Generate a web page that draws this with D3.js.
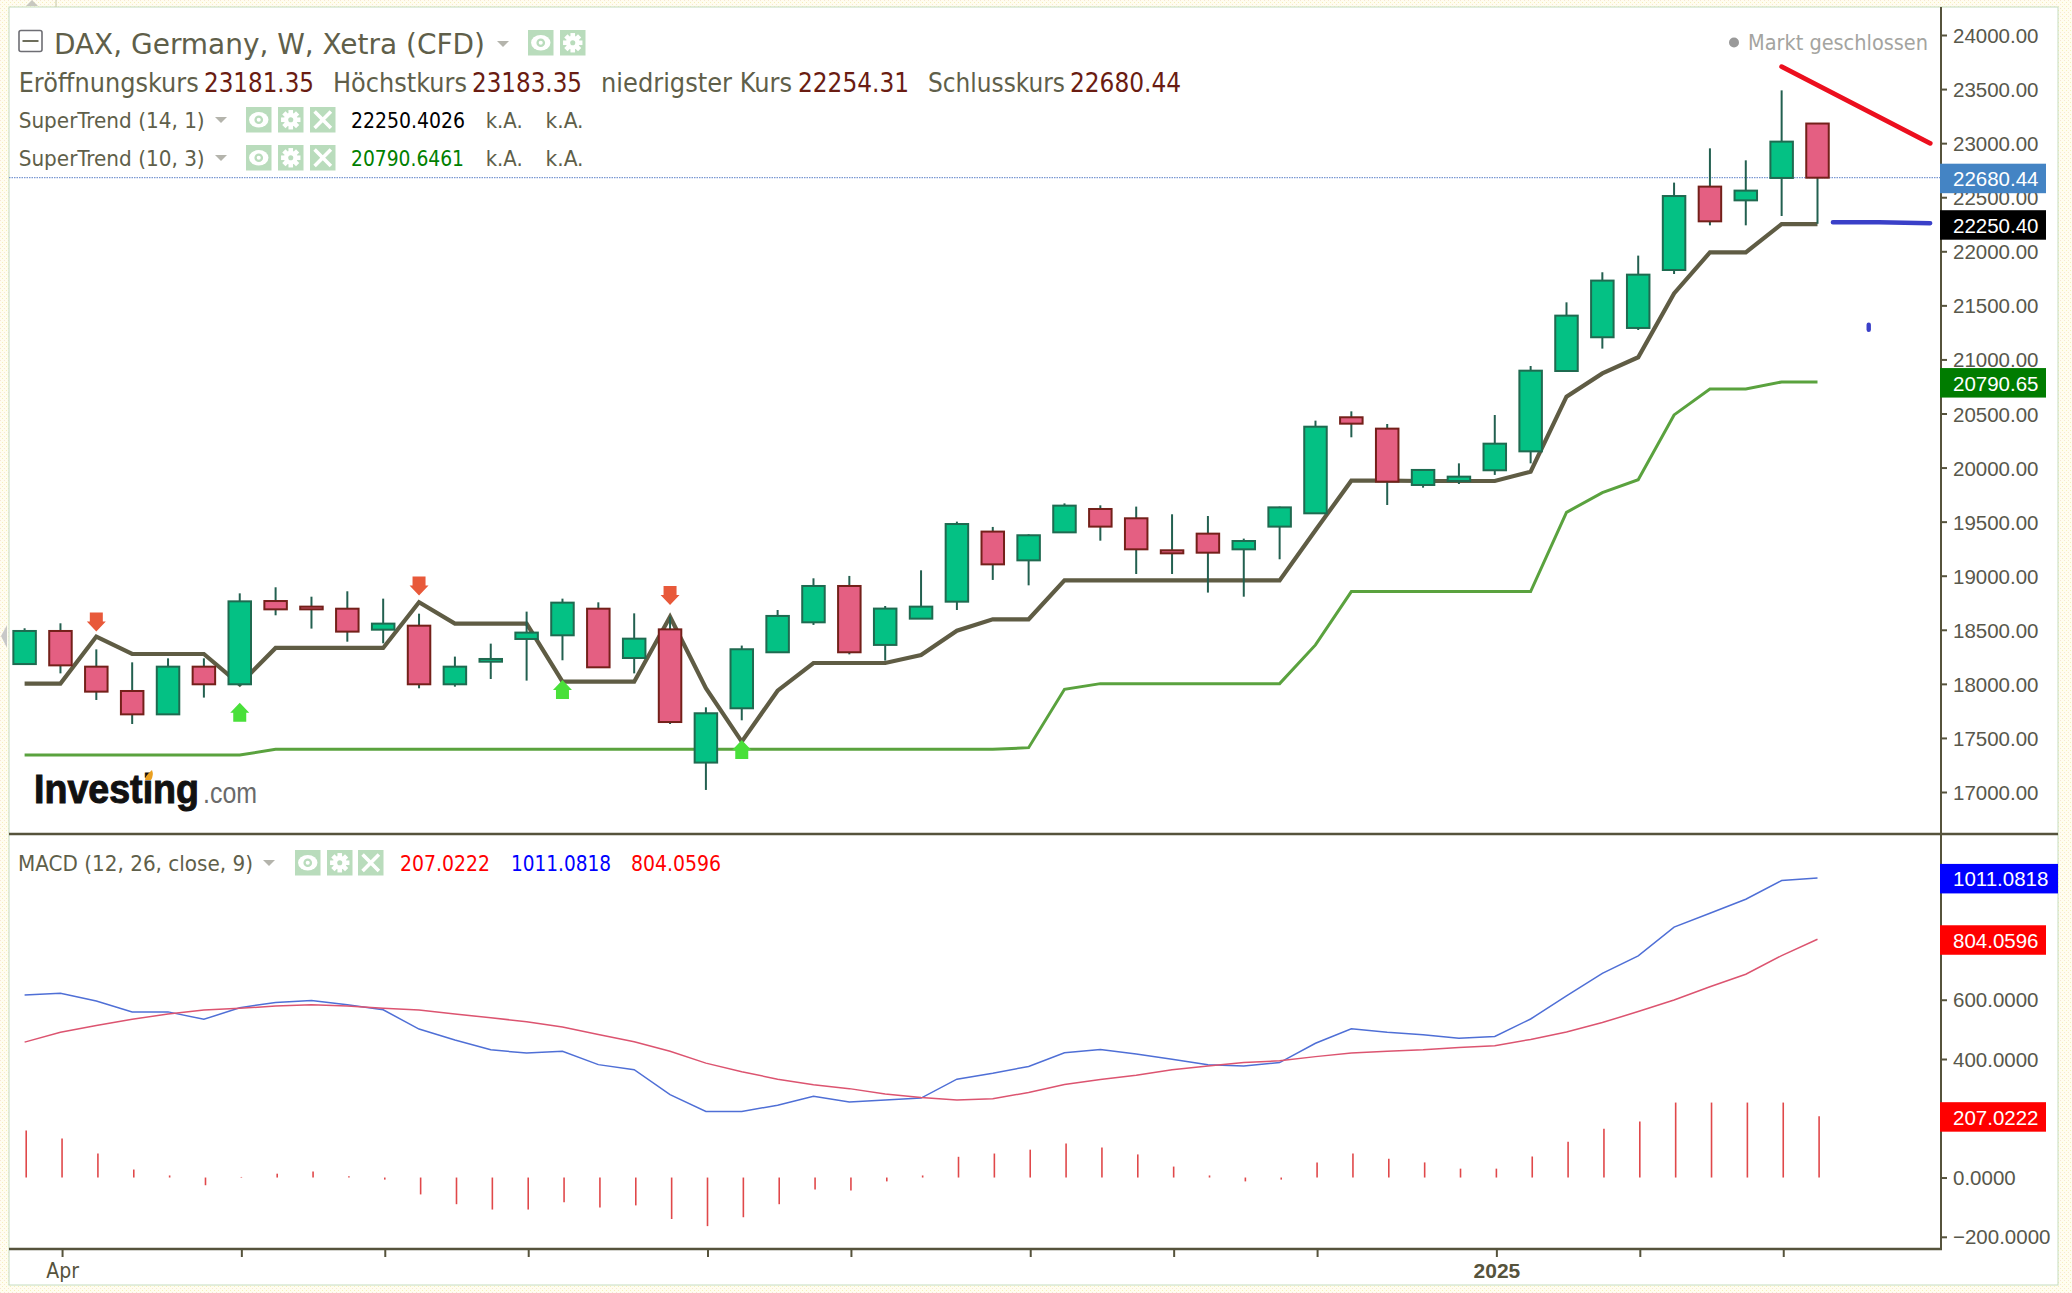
<!DOCTYPE html>
<html>
<head>
<meta charset="utf-8">
<title>DAX weekly</title>
<script src="https://cdn.jsdelivr.net/npm/d3@7"></script>
<style>
  html, body { margin: 0; padding: 0; background: #fefcf0; }
  svg { display: block; }
</style>
</head>
<body>
<svg id="chart" width="2072" height="1293"></svg>
<script>
// weekly candles, Monday of each week
const weeks = ['2024-03-25','2024-04-01','2024-04-08','2024-04-15','2024-04-22','2024-04-29','2024-05-06','2024-05-13','2024-05-20','2024-05-27',
  '2024-06-03','2024-06-10','2024-06-17','2024-06-24','2024-07-01','2024-07-08','2024-07-15','2024-07-22','2024-07-29','2024-08-05',
  '2024-08-12','2024-08-19','2024-08-26','2024-09-02','2024-09-09','2024-09-16','2024-09-23','2024-09-30','2024-10-07','2024-10-14',
  '2024-10-21','2024-10-28','2024-11-04','2024-11-11','2024-11-18','2024-11-25','2024-12-02','2024-12-09','2024-12-16','2024-12-23',
  '2024-12-30','2025-01-06','2025-01-13','2025-01-20','2025-01-27','2025-02-03','2025-02-10','2025-02-17','2025-02-24','2025-03-03','2025-03-10'];

const opens = [18183,18489,18159,17934,17718,18159,17996,18766,18714,18695,18501,18538,17996,18205,18415,18449,18695,18239,18504,17272,
  17774,18292,18569,18905,18360,18603,18760,19408,19142,19401,19617,19531,19235,19389,19244,19454,19577,20465,20360,19839,
  19876,19975,20150,20893,21205,21291,21827,22598,22471,22678,23181.35];
const highs = [18514,18560,18319,18199,18236,18236,18837,18893,18806,18856,18788,18649,18252,18372,18668,18788,18754,18652,18621,17783,
  18354,18683,18976,18998,18720,19050,19500,19451,19383,19669,19651,19639,19568,19552,19343,19639,20434,20520,20403,19978,
  20039,20486,20939,21528,21806,21960,22635,22952,22841,23488,23183.35];
const lows = [18178,18097,17851,17629,17718,17873,17980,18634,18511,18390,18375,17959,17974,18045,18030,18218,18153,18097,17629,17019,
  17663,18292,18545,18273,18215,18603,18683,18961,18911,19401,19324,19016,19016,18844,18806,19152,19577,20280,19654,19814,
  19848,19932,20039,20893,21100,21272,21790,22240,22240,22326,22254.31];
const closes = [18489,18171,17928,17718,18159,17996,18763,18689,18689,18483,18557,17996,18159,18230,18474,18751,18153,18418,17647,17728,
  18320,18628,18905,18292,18696,18714,19478,19105,19374,19648,19454,19244,19207,19213,19321,19632,20378,20406,19870,19978,
  19916,20221,20896,21405,21729,21784,22511,22277,22561,23014,22680.44];

const superTrendFast = [18003,18003,18437,18276,18276,18276,17996,18332,18332,18332,18332,18754,18557,18557,18557,18020,18020,18020,18621,17959,
  17466,17937,18193,18193,18193,18267,18492,18597,18597,18957,18957,18957,18957,18957,18957,18957,19420,19879,19879,19876,
  19876,19876,19962,20656,20871,21020,21611,21990,21990,22252,22250.40];
const superTrendSlow = [17342,17342,17342,17342,17342,17342,17342,17395,17395,17395,17395,17395,17395,17395,17395,17395,17395,17395,17395,17395,
  17395,17395,17395,17395,17395,17395,17395,17395,17410,17950,18002,18002,18002,18002,18002,18002,18360,18853,18853,18853,
  18853,18853,18853,19586,19768,19888,20487,20727,20727,20792,20790.65];

const macdLine = [616,622,596,559,559,534,573,591,597,583,566,501,464,431,420,426,381,364,280,223,
  223,244,274,255,262,268,332,352,375,421,432,417,399,381,376,388,453,502,490,482,
  470,476,535,613,689,748,845,892,939,1002,1011.08];
const signalLine = [457,490,513,534,552,565,571,579,583,579,571,565,552,539,526,508,483,458,426,386,
  357,332,313,300,282,270,262,266,287,314,331,345,364,376,388,394,408,420,426,431,
  439,445,466,491,523,560,599,644,686,749,804.06];
const histogram = [159,132,81,27,7,-26,2,13,20,4,-7,-57,-90,-108,-108,-83,-101,-94,-140,-164,
  -134,-90,-40,-44,-13,7,70,81,94,115,101,78,37,7,-13,-7,51,81,63,51,
  30,30,71,121,165,189,253,253,253,253,207.02];

// SuperTrend flip arrows: week and value at the tip
const sellWeeks = ['2024-04-08','2024-06-10','2024-07-29'];
const sellTips = [18483,18816,18729];
const buyWeeks = ['2024-05-06','2024-07-08','2024-08-12'];
const buyTips = [17826,18036,17481];

// hand drawn lines on the chart
const trendDates = ['2025-03-03','2025-04-01'];
const trendValues = [23707,22998];
const flatDates = ['2025-03-13','2025-03-22','2025-04-01'];
const flatValues = [22268,22268,22259];
const dotDates = ['2025-03-20','2025-03-20'];
const dotValues = [21320,21275];

const priceTicks = [17000,17500,18000,18500,19000,19500,20000,20500,21000,21500,22000,22500,23000,23500,24000];
const macdTicks = [-200,0,200,400,600,800,1000];
const monthTicks = ['2024-04-01','2024-05-06','2024-06-03','2024-07-01','2024-08-05','2024-09-02','2024-10-07','2024-11-04','2024-12-02','2025-01-06','2025-02-03','2025-03-03'];
const monthLabels = {'2024-04-01':'Apr','2025-01-06':'2025'};

const svg = d3.select('#chart');
const parse = d3.utcParse('%Y-%m-%d');
const axisX = 1941, panelL = 9, panelR = 2058, panelT = 7, sepY = 834, panelB = 1249;
const legendFont = '"DejaVu Sans Condensed","DejaVu Sans",sans-serif';
const axisFont = '"Liberation Sans",Arial,sans-serif';
const olive = '#56533c';

const x = d3.scaleUtc().domain([parse(weeks[0]), parse(weeks[weeks.length-1])]).range([24.6, 1817.5]);
const y = d3.scaleLinear().domain([24000,17000]).range([35,792]);
const ym = d3.scaleLinear().domain([1000,-200]).range([881.2,1236.8]);
const xw = i => x(parse(weeks[i]));

// page and panel, the page has a faint dither
const pat = svg.append('defs').append('pattern').attr('id','dither')
  .attr('width',4).attr('height',4).attr('patternUnits','userSpaceOnUse');
pat.append('rect').attr('width',4).attr('height',4).attr('fill','#fffdf0');
pat.append('rect').attr('width',1).attr('height',1).attr('fill','#f8e6d4');
pat.append('rect').attr('x',2).attr('y',2).attr('width',1).attr('height',1).attr('fill','#f6f0b8');
svg.append('rect').attr('width',2072).attr('height',1293).attr('fill','url(#dither)');
svg.append('rect').attr('x',panelL).attr('y',panelT).attr('width',panelR-panelL).attr('height',1285-panelT)
  .attr('fill','#fff').attr('stroke','#c4dcc0').attr('stroke-width',1);
svg.append('path').attr('d','M26,6 L32,0 L38,6 Z').attr('fill','#c8c8c0');
svg.append('line').attr('x1',56).attr('x2',56).attr('y1',0).attr('y2',7).attr('stroke','#c4c8a8');
svg.append('path').attr('d','M7,625 L1,636 L7,648 Z').attr('fill','#c8c8c8');

// current price line
svg.append('line').attr('x1',panelL).attr('x2',axisX).attr('y1',y(closes[50])).attr('y2',y(closes[50]))
  .attr('stroke','#5b7fc8').attr('stroke-width',1).attr('stroke-dasharray','1.5,1');

// supertrend
const idx = d3.range(weeks.length);
const lineOf = (arr, sc) => d3.line().x(i => xw(i)).y(i => sc(arr[i]));
svg.append('path').attr('d', lineOf(superTrendSlow,y)(idx)).attr('fill','none').attr('stroke','#5aa23e').attr('stroke-width',3);
svg.append('path').attr('d', lineOf(superTrendFast,y)(idx)).attr('fill','none').attr('stroke','#5f5c44').attr('stroke-width',4.2);

// candles
const candleW = 22.5;
const candles = svg.append('g').selectAll('g').data(idx).join('g');
candles.append('line')
  .attr('x1',i=>xw(i)).attr('x2',i=>xw(i))
  .attr('y1',i=>y(highs[i])).attr('y2',i=>y(lows[i]))
  .attr('stroke','#236050').attr('stroke-width',2);
candles.append('rect')
  .attr('x',i=>xw(i)-candleW/2).attr('width',candleW)
  .attr('y',i=>y(Math.max(opens[i],closes[i])))
  .attr('height',i=>Math.max(1,Math.abs(y(opens[i])-y(closes[i]))))
  .attr('fill',i=>closes[i]>=opens[i] ? '#04c184' : '#e45f82')
  .attr('stroke',i=>closes[i]>=opens[i] ? '#1f6a50' : '#74201a')
  .attr('stroke-width',2);

// flip arrows
const arrow = d3.line();
const downArrow = [[0,0],[-9.5,-10],[-6.5,-10],[-6.5,-19],[6.5,-19],[6.5,-10],[9.5,-10]];
svg.append('g').selectAll('path').data(sellWeeks).join('path')
  .attr('d',arrow(downArrow)+'Z')
  .attr('transform',(d,i)=>`translate(${x(parse(d))},${y(sellTips[i])})`)
  .attr('fill','#e8593a');
const upArrow = downArrow.map(p => [p[0],-p[1]]);
svg.append('g').selectAll('path').data(buyWeeks).join('path')
  .attr('d',arrow(upArrow)+'Z')
  .attr('transform',(d,i)=>`translate(${x(parse(d))},${y(buyTips[i])})`)
  .attr('fill','#49e03a');

// drawn trend lines
const drawn = (dates, vals, color, w) => svg.append('path')
  .attr('d', d3.line().x((d,i)=>x(parse(dates[i]))).y((d,i)=>y(vals[i]))(dates))
  .attr('fill','none').attr('stroke',color).attr('stroke-width',w).attr('stroke-linecap','round');
drawn(trendDates, trendValues, '#ec0f1e', 4.8);
drawn(flatDates, flatValues, '#3a40c8', 4.4);
drawn(dotDates, dotValues, '#3a40c8', 4.4);

// macd, the bars sit a little right of the candle centres
const barShift = 1.6;
svg.append('path').attr('d', lineOf(macdLine,ym)(idx)).attr('fill','none').attr('stroke','#4f6fd6').attr('stroke-width',1.5);
svg.append('path').attr('d', lineOf(signalLine,ym)(idx)).attr('fill','none').attr('stroke','#dc5470').attr('stroke-width',1.5);
svg.append('g').attr('transform',`translate(${barShift},0)`).selectAll('line').data(idx).join('line')
  .attr('x1',i=>xw(i)).attr('x2',i=>xw(i))
  .attr('y1',ym(0)).attr('y2',i=>ym(histogram[i]))
  .attr('stroke','#e0484a').attr('stroke-width',1.6);

// panel frame
svg.append('line').attr('x1',panelL).attr('x2',panelR).attr('y1',sepY).attr('y2',sepY).attr('stroke',olive).attr('stroke-width',2.6);
svg.append('line').attr('x1',panelL).attr('x2',axisX+1).attr('y1',panelB).attr('y2',panelB).attr('stroke',olive).attr('stroke-width',2.6);
svg.append('line').attr('x1',axisX).attr('x2',axisX).attr('y1',panelT).attr('y2',panelB).attr('stroke',olive).attr('stroke-width',2);

// axes
const styleAxis = (g, nudge) => {
  g.select('.domain').remove();
  g.selectAll('line').attr('stroke',olive).attr('stroke-width',2);
  g.selectAll('text').attr('fill','#58584c').attr('font-family',axisFont).attr('font-size',20.5).attr('text-anchor','start').attr('y',nudge);
};
svg.append('g').attr('transform',`translate(${axisX},0)`)
  .call(d3.axisRight(y).tickValues(priceTicks).tickFormat(d3.format('.2f')).tickSize(6).tickPadding(6))
  .call(styleAxis, 1);
svg.append('g').attr('transform',`translate(${axisX},0)`)
  .call(d3.axisRight(ym).tickValues(macdTicks).tickFormat(d3.format('.4f')).tickSize(6).tickPadding(6))
  .call(styleAxis, 0.5);
svg.append('g').attr('transform',`translate(${barShift},${panelB})`)
  .call(d3.axisBottom(x).tickValues(monthTicks.map(parse)).tickFormat(d => monthLabels[d3.utcFormat('%Y-%m-%d')(d)] || '').tickSize(8).tickPadding(6))
  .call(g => {
    g.select('.domain').remove();
    g.selectAll('line').attr('stroke',olive).attr('stroke-width',2);
    g.selectAll('text').attr('fill','#56533c').attr('font-family',legendFont).attr('font-size',21);
    g.selectAll('text').filter(d => d.getUTCFullYear() === 2025).attr('font-family',axisFont).attr('font-weight','bold');
  });

// value tags on the axis
const tag = (cy, w, color, txt) => {
  svg.append('rect').attr('x',axisX-1).attr('y',cy-14).attr('width',w).attr('height',29.5).attr('fill',color);
  svg.append('text').attr('x',axisX+12).attr('y',cy+8.5).text(txt)
    .attr('fill','#fff').attr('font-family',axisFont).attr('font-size',20.5);
};
tag(y(closes[50]), 106, '#4484c4', '22680.44');
tag(y(superTrendFast[50]), 106, '#000', '22250.40');
tag(y(superTrendSlow[50]), 106, '#007c00', '20790.65');
tag(ym(1011.0818), 118, '#0000ff', '1011.0818');
tag(ym(804.0596), 106, '#ff0000', '804.0596');
tag(ym(207.0222), 106, '#ff0000', '207.0222');

// legend texts, widths fitted to the picture
const label = (px, base, txt, w, size, color, font) => svg.append('text')
  .attr('x',px).attr('y',base).text(txt).attr('fill',color)
  .attr('font-family',font || legendFont).attr('font-size',size)
  .attr('textLength',w).attr('lengthAdjust','spacingAndGlyphs');

const iconBg = '#b9dcbc';
const eye = (px, py, s) => {
  const g = svg.append('g').attr('transform',`translate(${px},${py})`);
  g.append('rect').attr('width',s).attr('height',s).attr('fill',iconBg);
  g.append('ellipse').attr('cx',s/2).attr('cy',s/2).attr('rx',s*0.38).attr('ry',s*0.3).attr('fill','#fff');
  g.append('circle').attr('cx',s/2).attr('cy',s/2).attr('r',s*0.17).attr('fill',iconBg);
  g.append('circle').attr('cx',s/2).attr('cy',s/2).attr('r',s*0.08).attr('fill','#fff');
};
const gear = (px, py, s) => {
  const g = svg.append('g').attr('transform',`translate(${px},${py})`);
  g.append('rect').attr('width',s).attr('height',s).attr('fill',iconBg);
  d3.range(4).forEach(k => g.append('rect').attr('x',s*0.41).attr('y',s*0.12).attr('width',s*0.18).attr('height',s*0.76)
    .attr('fill','#fff').attr('transform',`rotate(${k*45},${s/2},${s/2})`));
  g.append('circle').attr('cx',s/2).attr('cy',s/2).attr('r',s*0.27).attr('fill','#fff');
  g.append('circle').attr('cx',s/2).attr('cy',s/2).attr('r',s*0.1).attr('fill',iconBg);
};
const cross = (px, py, s) => {
  const g = svg.append('g').attr('transform',`translate(${px},${py})`);
  g.append('rect').attr('width',s).attr('height',s).attr('fill',iconBg);
  g.append('path').attr('d',`M${s*0.18},${s*0.18}L${s*0.82},${s*0.82}M${s*0.82},${s*0.18}L${s*0.18},${s*0.82}`)
    .attr('stroke','#fff').attr('stroke-width',s*0.14);
};
const caret = (px, py) => svg.append('path').attr('d',`M${px},${py}h12l-6,6z`).attr('fill','#b4b4ac');

// header row
svg.append('rect').attr('x',19).attr('y',30.5).attr('width',23).attr('height',21).attr('rx',2)
  .attr('fill','none').attr('stroke','#6e6e74').attr('stroke-width',1.6);
svg.append('line').attr('x1',22.5).attr('x2',38.5).attr('y1',41).attr('y2',41).attr('stroke','#6e6e5c').attr('stroke-width',2);
label(54, 54, 'DAX, Germany, W, Xetra (CFD)', 431, 29, '#5f5f4a');
caret(497, 41);
eye(528, 30, 25.5);
gear(560, 30, 25.5);

// OHLC row
const ohlcName = '#5f5f4a', ohlcVal = '#6a1c12';
label(18.7, 92, 'Eröffnungskurs', 180, 26, ohlcName);
label(204, 92, '23181.35', 110, 26, ohlcVal);
label(333, 92, 'Höchstkurs', 134, 26, ohlcName);
label(472, 92, '23183.35', 110, 26, ohlcVal);
label(601, 92, 'niedrigster Kurs', 191, 26, ohlcName);
label(798, 92, '22254.31', 111, 26, ohlcVal);
label(928, 92, 'Schlusskurs', 137, 26, ohlcName);
label(1070, 92, '22680.44', 111, 26, ohlcVal);

// indicator rows
const indicatorRow = (base, name, nameW, valTxt, valColor, valW) => {
  label(18.7, base, name, nameW, 22, '#5f5f4a');
  caret(215, base-11);
  eye(246, base-21, 25.5);
  gear(278, base-21, 25.5);
  cross(310, base-21, 25.5);
  label(351, base, valTxt, valW, 22, valColor);
  label(485.7, base, 'k.A.', 37, 22, '#5f5f4a');
  label(545.5, base, 'k.A.', 38, 22, '#5f5f4a');
};
indicatorRow(128, 'SuperTrend (14, 1)', 186, '22250.4026', '#000', 114);
indicatorRow(166, 'SuperTrend (10, 3)', 186, '20790.6461', '#008000', 113);

// macd legend
label(18, 871, 'MACD (12, 26, close, 9)', 235, 22, '#5f5f4a');
caret(263, 860);
eye(295, 850, 25.5);
gear(327, 850, 25.5);
cross(358, 850, 25.5);
label(400, 871, '207.0222', 90, 22, '#ff0000');
label(511, 871, '1011.0818', 100, 22, '#0000ff');
label(631, 871, '804.0596', 90, 22, '#ff0000');

// market state
svg.append('circle').attr('cx',1734).attr('cy',42.5).attr('r',5).attr('fill','#999');
label(1748, 50, 'Markt geschlossen', 180, 22, '#a4a4a0');

// logo, smaller font stretched upward so it keeps the tall narrow look
label(0, 0, 'Investing', 165, 36, '#111', axisFont).attr('font-weight','bold').attr('stroke','#111').attr('stroke-width',0.9)
  .attr('transform','translate(34,803) scale(1,1.14)');
label(203, 803, '.com', 54, 29, '#6a6a6a', axisFont);
svg.append('path').attr('d','M152,770 q-7,6 -7,10 l6,0 q3,-5 1,-10z').attr('fill','#eaa020');
</script>
</body>
</html>
